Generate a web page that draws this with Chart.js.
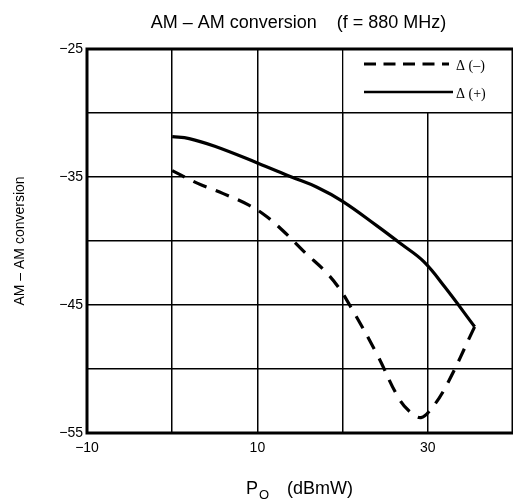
<!DOCTYPE html>
<html><head><meta charset="utf-8">
<script src="https://cdn.jsdelivr.net/npm/chart.js@4/dist/chart.umd.min.js"></script>
<style>html,body{margin:0;padding:0;background:#fff}#wrap{width:513px;height:502px;position:relative;overflow:hidden}</style>
</head><body><div id="wrap"><canvas id="c" width="513" height="502"></canvas></div>
<script>
// ---- data ----
const chartTitle = "AM \u2013 AM conversion    (f = 880 MHz)";
const yAxisTitle = "AM \u2013 AM conversion";
const xAxisTitleMain = "P";
const xAxisTitleSub = "O";
const xAxisTitleUnit = "(dBmW)";
const seriesLabels = ["\u0394 (\u2013)", "\u0394 (+)"];
const minusX = [0, 3, 6, 9, 11, 13, 15.5, 18, 19.5, 21, 24, 26.6, 28, 29.2, 30.3, 32.1, 35.5];
const minusY = [-34.5, -35.5, -36.3, -37.2, -38.05, -39.2, -40.85, -42.4, -43.6, -45.2, -48.8, -52.3, -53.4, -53.8, -53.2, -51.4, -46.7];
const plusX = [0, 2, 5, 10, 14, 17, 20, 24, 27, 29.5, 32, 35.5];
const plusY = [-31.85, -32.0, -32.6, -33.9, -35.0, -35.8, -36.9, -38.8, -40.3, -41.6, -43.6, -46.7];
const xTickLabels = [-10, 10, 30];
const yTickLabels = [-25, -35, -45, -55];

const toPts = (xs, ys) => xs.map((x, i) => ({x: x, y: ys[i]}));
const fmt = v => (v < 0 ? "\u2212" + Math.abs(v) : String(v));
const SANS = "'Liberation Sans', Arial, sans-serif";
const SERIF = "'Liberation Serif', 'Times New Roman', serif";

const decor = {
  id: 'decor',
  beforeDatasetsDraw(chart) {
    const {ctx, chartArea: a, scales: {x, y}} = chart;
    ctx.save();
    // legend cell (covers the grid line inside it)
    const lx = x.getPixelForValue(20), ly = y.getPixelForValue(-30);
    ctx.fillStyle = '#fff';
    ctx.fillRect(lx + 1, a.top, a.right - lx, ly - a.top - 1);
    // legend entries
    ctx.strokeStyle = '#000';
    ctx.lineWidth = 3;
    ctx.setLineDash([12, 7.5]);
    ctx.beginPath(); ctx.moveTo(364, 64); ctx.lineTo(449, 64); ctx.stroke();
    ctx.setLineDash([]);
    ctx.lineWidth = 2.5;
    ctx.beginPath(); ctx.moveTo(364, 92); ctx.lineTo(453, 92); ctx.stroke();
    ctx.fillStyle = '#000';
    ctx.font = "14px " + SERIF;
    ctx.textBaseline = 'alphabetic';
    ctx.textAlign = 'left';
    ctx.fillText(seriesLabels[0], 456, 70);
    ctx.fillText(seriesLabels[1], 456, 98);
    ctx.restore();
  },
  afterDraw(chart) {
    const {ctx, chartArea: a} = chart;
    ctx.save();
    // frame
    ctx.strokeStyle = '#000';
    ctx.lineWidth = 3;
    ctx.strokeRect(a.left, a.top, a.right - a.left, a.bottom - a.top);
    ctx.fillStyle = '#000';
    // chart title
    ctx.font = "18px " + SANS;
    ctx.textAlign = 'center';
    ctx.textBaseline = 'alphabetic';
    ctx.fillText(chartTitle, 298.5, 28);
    // y title
    ctx.save();
    ctx.translate(24, (a.top + a.bottom) / 2);
    ctx.rotate(-Math.PI / 2);
    ctx.font = "14px " + SANS;
    ctx.textAlign = 'center';
    ctx.fillText(yAxisTitle, 0, 0);
    ctx.restore();
    // x title with subscript
    ctx.textAlign = 'left';
    ctx.font = "18px " + SANS;
    let px = 246;
    ctx.fillText(xAxisTitleMain, px, 494);
    px += ctx.measureText(xAxisTitleMain).width;
    ctx.font = "13px " + SANS;
    ctx.fillText(xAxisTitleSub, px + 1, 499);
    ctx.font = "18px " + SANS;
    ctx.fillText(xAxisTitleUnit, 287, 494);
    ctx.restore();
  }
};

new Chart(document.getElementById('c'), {
  type: 'line',
  data: {
    datasets: [
      {label: seriesLabels[0], data: toPts(minusX, minusY), borderColor: '#000', borderWidth: 3.2,
       borderDash: [14, 10], pointRadius: 0, tension: 0.4, fill: false},
      {label: seriesLabels[1], data: toPts(plusX, plusY), borderColor: '#000', borderWidth: 3.2,
       pointRadius: 0, tension: 0.4, fill: false}
    ]
  },
  options: {
    responsive: false,
    devicePixelRatio: 1,
    animation: false,
    layout: {padding: {top: 49, right: -2, left: 0, bottom: 0}},
    plugins: {legend: {display: false}, title: {display: false}, tooltip: {enabled: false}},
    scales: {
      x: {
        type: 'linear', min: -10, max: 40,
        border: {display: false},
        grid: {color: '#000', lineWidth: 1.5, drawTicks: false},
        ticks: {stepSize: 10, padding: 7, color: '#000', font: {family: SANS, size: 14},
          autoSkip: false, maxRotation: 0,
          callback: v => xTickLabels.includes(v) ? fmt(v) : ''},
        afterFit: s => { s.height = 69; s.paddingLeft = 0; s.paddingRight = 0; }
      },
      y: {
        type: 'linear', min: -55, max: -25,
        border: {display: false},
        grid: {color: '#000', lineWidth: 1.5, drawTicks: false},
        ticks: {stepSize: 5, padding: 4, color: '#000', font: {family: SANS, size: 14},
          autoSkip: false,
          callback: v => yTickLabels.includes(v) ? fmt(v) : ''},
        afterFit: s => { s.width = 87; s.paddingTop = 0; s.paddingBottom = 0; }
      }
    }
  },
  plugins: [decor]
});
</script>
</body></html>
